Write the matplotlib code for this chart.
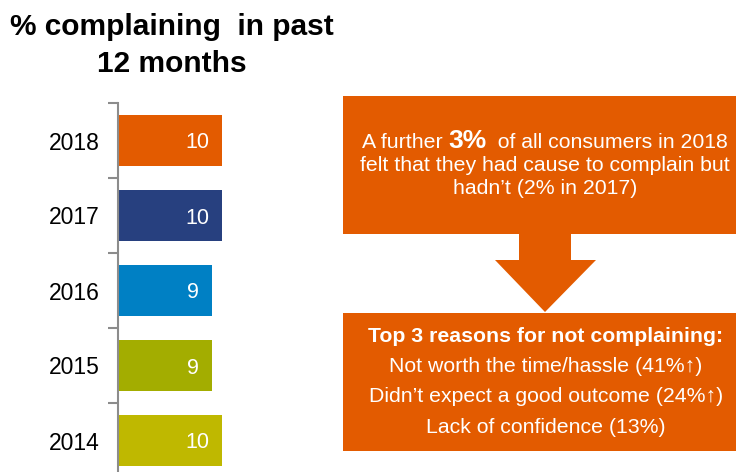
import matplotlib
matplotlib.use("Agg")
import matplotlib.pyplot as plt
from matplotlib.patches import Rectangle, Polygon

plt.rcParams['font.family'] = ['Liberation Sans', 'DejaVu Sans']

# ── DATA ──────────────────────────────────────────────────────────────────
years = ["2018", "2017", "2016", "2015", "2014"]
values = [10, 10, 9, 9, 10]
bar_colors = ["#E35B00", "#27407F", "#0080C4", "#A3AD00", "#BFB800"]

title_lines = ["% complaining  in past", "12 months"]
box1_first = ["A further ", "3%", "  of all consumers in 2018"]
box1_rest = ["felt that they had cause to complain but",
             "hadn\u2019t (2% in 2017)"]
box2_title = "Top 3 reasons for not complaining:"
box2_lines = ["Not worth the time/hassle (41%\u2191)",
              "Didn\u2019t expect a good outcome (24%\u2191)",
              "Lack of confidence (13%)"]

ORANGE = "#E35B00"
W, H = 736, 472

fig = plt.figure(figsize=(W / 100, H / 100), dpi=100)

# ── BAR CHART ─────────────────────────────────────────────────────────────
ax = fig.add_axes([118 / W, 1 - 478 / H, 208 / W, 375 / H])
pos = list(range(len(years)))
ax.barh(pos, values, height=0.667, color=bar_colors)
ax.set_xlim(0, 20)
ax.set_ylim(len(years) - 0.5, -0.5)
for i, v in enumerate(values):
    ax.text(v - 1.2, i, str(v), ha='right', va='center_baseline', color='white', fontsize=15.5)

ax.set_yticks(pos)
ax.set_yticklabels(years, fontsize=16.5)
ax.tick_params(axis='y', which='major', length=0, pad=13)
ax.set_yticks([p - 0.5 for p in pos], minor=True)
ax.tick_params(axis='y', which='minor', length=7, color='#8C8C8C', width=1.5)
ax.set_xticks([])
for s in ['top', 'right', 'bottom']:
    ax.spines[s].set_visible(False)
ax.spines['left'].set_color('#8C8C8C')
ax.spines['left'].set_linewidth(1.5)

# ── TITLE ─────────────────────────────────────────────────────────────────
fig.text(172 / W, 1 - 35 / H, title_lines[0], ha='center', va='baseline',
         fontsize=21.5, fontweight='bold')
fig.text(172 / W, 1 - 72 / H, title_lines[1], ha='center', va='baseline',
         fontsize=21.5, fontweight='bold')

# ── CALLOUT ───────────────────────────────────────────────────────────────
ov = fig.add_axes([0, 0, 1, 1], zorder=-1)
ov.set_xlim(0, W)
ov.set_ylim(H, 0)
ov.axis('off')
ov.add_patch(Rectangle((343, 96), 400, 138, color=ORANGE, lw=0))
ov.add_patch(Polygon([(519, 233), (571, 233), (571, 260), (596, 260),
                      (545, 312), (495, 260), (519, 260)], closed=True,
                     color=ORANGE, lw=0))
ov.add_patch(Rectangle((343, 313), 400, 138, color=ORANGE, lw=0))

# first line: mixed sizes, laid out piece by piece
renderer = fig.canvas.get_renderer()
styles = [dict(fontsize=15.3), dict(fontsize=19, fontweight='bold'), dict(fontsize=15.3)]
pieces = [ov.text(0, 148, s, ha='left', va='baseline', color='white', **st)
          for s, st in zip(box1_first, styles)]
widths = [p.get_window_extent(renderer).width for p in pieces]
x = 545 - sum(widths) / 2
for p, w in zip(pieces, widths):
    p.set_x(x)
    x += w

for line, y in zip(box1_rest, [171, 194]):
    ov.text(545, y, line, ha='center', va='baseline', color='white', fontsize=15.3)

ov.text(546, 342, box2_title, ha='center', va='baseline', color='white',
        fontsize=15.3, fontweight='bold')
for line, y in zip(box2_lines, [372, 402, 433]):
    ov.text(546, y, line, ha='center', va='baseline', color='white', fontsize=15.3)

fig.savefig("out.png", dpi=100)
